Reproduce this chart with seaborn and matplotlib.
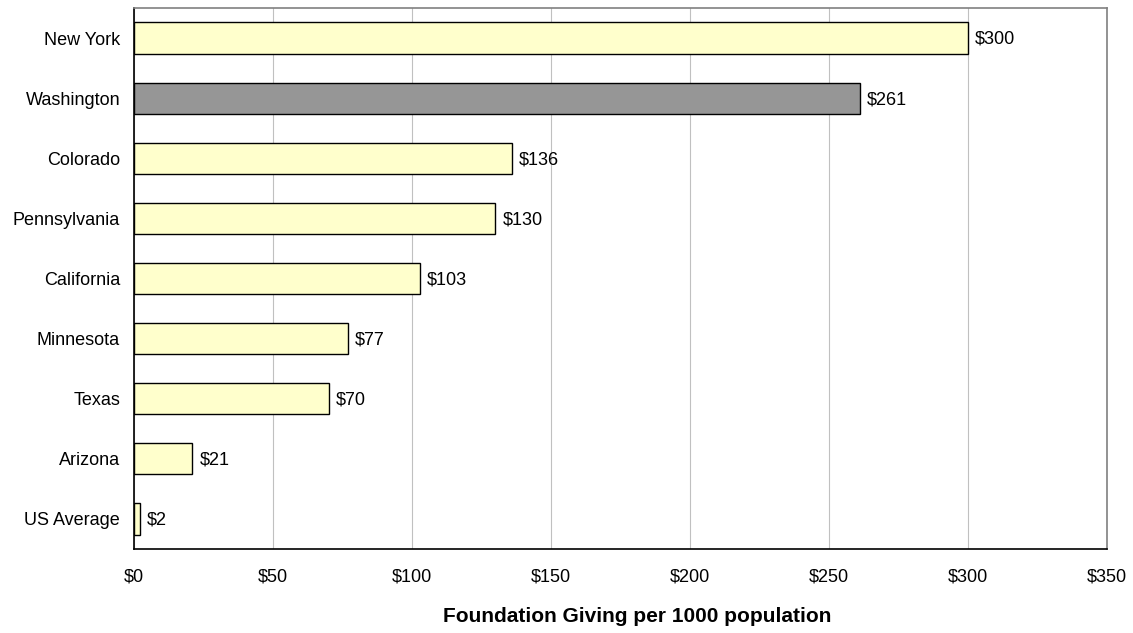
import matplotlib
matplotlib.use("Agg")
import matplotlib.pyplot as plt
import seaborn as sns
import pandas as pd

states = ["New York", "Washington", "Colorado", "Pennsylvania", "California",
          "Minnesota", "Texas", "Arizona", "US Average"]
giving = [300, 261, 136, 130, 103, 77, 70, 21, 2]
highlight = "Washington"
xticks = [0, 50, 100, 150, 200, 250, 300, 350]

sns.set_theme(style="white")
plt.rcParams["font.family"] = ["Liberation Sans", "DejaVu Sans"]
plt.rcParams["text.color"] = "black"
plt.rcParams["xtick.color"] = "black"
plt.rcParams["ytick.color"] = "black"

df = pd.DataFrame({"state": states, "giving": giving})
palette = {s: ("#969696" if s == highlight else "#FFFFCC") for s in states}

fig = plt.figure(figsize=(11.33, 6.33), dpi=100)
ax = fig.add_axes([134/1133, 1-549/633, (1107-134)/1133, (549-8)/633])

sns.barplot(data=df, x="giving", y="state", hue="state", palette=palette,
            order=states, legend=False, width=0.52, edgecolor="black",
            linewidth=1.0, ax=ax, saturation=1)

ax.set_xlim(0, 350)
ax.set_xticks(xticks)
ax.set_xticklabels([f"${v}" for v in xticks], fontsize=13)
ax.tick_params(axis="x", length=0, pad=14, labelcolor="black")
ax.tick_params(axis="y", length=0, pad=10, labelsize=13, labelcolor="black")
ax.xaxis.grid(True, color="#C0C0C0", linewidth=0.8)
ax.set_axisbelow(True)
ax.set_xlabel("")
ax.set_ylabel("")
for side in ["top", "right"]:
    ax.spines[side].set_color("#808080")
    ax.spines[side].set_linewidth(1.2)
for side in ["left", "bottom"]:
    ax.spines[side].set_color("black")
    ax.spines[side].set_linewidth(1.2)

for i, v in enumerate(giving):
    ax.annotate(f"${v}", xy=(v, i), xytext=(5, -1), textcoords="offset points",
                va="center", ha="left", fontsize=13, color="black")

fig.text(637/1133, 1-617/633, "Foundation Giving per 1000 population",
         ha="center", va="center", fontsize=15, fontweight="bold", color="black")

fig.savefig("out.png", dpi=100, facecolor="white")
